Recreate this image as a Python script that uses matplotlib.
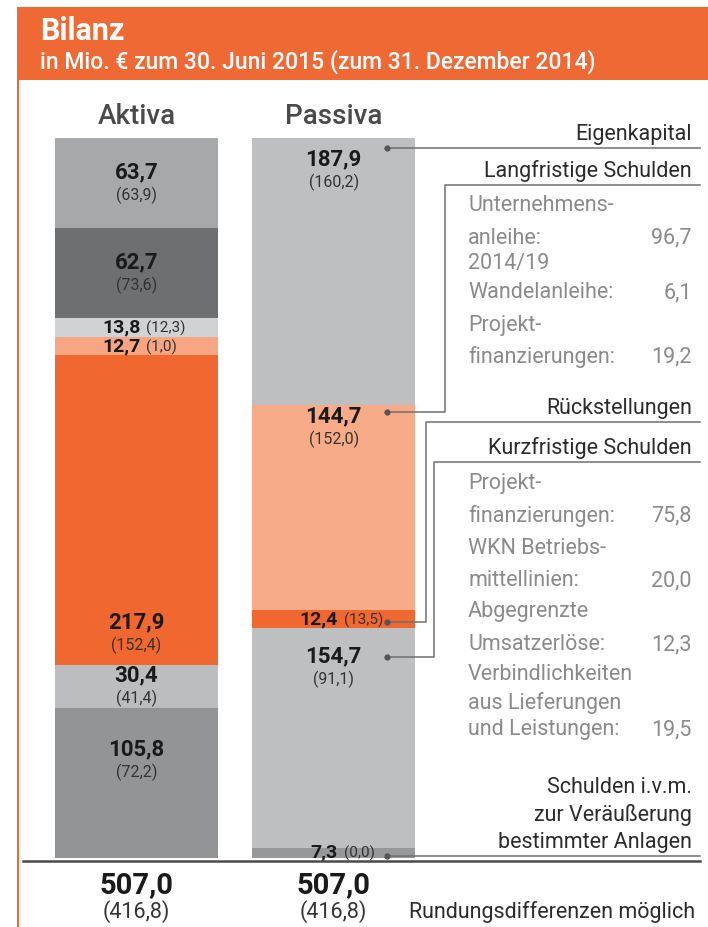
import numpy as np
import matplotlib
matplotlib.use("Agg")
import matplotlib.pyplot as plt
from matplotlib.patches import Rectangle

plt.rcParams['font.family'] = ['Roboto', 'DejaVu Sans']

# Bilanz in Mio. EUR, 30.06.2015 and (31.12.2014), segments listed top to bottom
aktiva_now = [63.7, 62.7, 13.8, 12.7, 217.9, 30.4, 105.8]
aktiva_prev = [63.9, 73.6, 12.3, 1.0, 152.4, 41.4, 72.2]
aktiva_colors = ['#a7a8aa', '#6e6f71', '#d1d2d4', '#f7a582', '#f0672f', '#bcbdbf', '#939496']

passiva_now = [187.9, 144.7, 12.4, 154.7, 7.3]
passiva_prev = [160.2, 152.0, 13.5, 91.1, 0.0]
passiva_colors = ['#bebfc1', '#f8ab88', '#f0672f', '#bebfc1', '#97989a']
passiva_names = ['Eigenkapital', 'Langfristige Schulden', 'Rückstellungen',
                 'Kurzfristige Schulden', 'Schulden i.v.m.\nzur Veräußerung\nbestimmter Anlagen']

lang_lines = ['Unternehmens-', 'anleihe:', '2014/19', 'Wandelanleihe:', 'Projekt-', 'finanzierungen:']
lang_values = [96.7, 6.1, 19.2]
kurz_lines = ['Projekt-', 'finanzierungen:', 'WKN Betriebs-', 'mittellinien:', 'Abgegrenzte',
              'Umsatzerlöse:', 'Verbindlichkeiten', 'aus Lieferungen', 'und Leistungen:']
kurz_values = [75.8, 20.0, 12.3, 19.5]

total_now = 507.0
total_prev = 416.8


def de(v):
    return f"{v:.1f}".replace('.', ',')


W, H = 708, 927
ORANGE = '#ef6935'
LINE = '#6f6f6f'
NOTE = 15.5
fig = plt.figure(figsize=(W / 100, H / 100), dpi=100)

# overlay in pixel coords for header, notes and connectors
ov = fig.add_axes([0, 0, 1, 1])
ov.set_xlim(0, W)
ov.set_ylim(H, 0)
ov.axis('off')
ov.set_zorder(3)

# bars
ax = fig.add_axes([55 / W, (H - 858) / H, 360 / W, 720 / H])
bw = 0.825
ax.set_xlim(-bw / 2, 1 + bw / 2)
ax.set_ylim(total_now, 0)
ax.axis('off')
ax.set_zorder(2)


def to_px(x, y):
    return ov.transData.inverted().transform(ax.transData.transform((x, y)))


# label placement inside segments (fraction of segment) and inline flag
lab_frac = [[0.5, 0.5, 0.5, 0.5, 0.9, 0.5, 0.35], [0.12, 0.11, 0.5, 0.18, 0.5]]
inline = [[False, False, True, True, False, False, False], [False, False, True, False, True]]

cols = [(aktiva_now, aktiva_prev, aktiva_colors), (passiva_now, passiva_prev, passiva_colors)]
for i, (now, prev, colors) in enumerate(cols):
    bottoms = np.concatenate([[0], np.cumsum(now)[:-1]])
    ax.bar(i, now, bottom=bottoms, width=bw, color=colors, linewidth=0)
    for k in range(len(now)):
        yc = bottoms[k] + lab_frac[i][k] * now[k]
        if inline[i][k]:
            ax.annotate(de(now[k]), (i, yc), xytext=(4, 0), textcoords='offset pixels',
                        ha='right', va='center', fontsize=14, fontweight='bold', color='#1a1a1a')
            ax.annotate('(' + de(prev[k]) + ')', (i, yc), xytext=(10, -1), textcoords='offset pixels',
                        ha='left', va='center', fontsize=11, color='#333333')
        else:
            ax.annotate(de(now[k]), (i, yc), xytext=(0, 11), textcoords='offset pixels',
                        ha='center', va='center', fontsize=16, fontweight='bold', color='#1a1a1a')
            ax.annotate('(' + de(prev[k]) + ')', (i, yc), xytext=(0, -12), textcoords='offset pixels',
                        ha='center', va='center', fontsize=11.5, color='#333333')

    ax.annotate(['Aktiva', 'Passiva'][i], (i, 0), xytext=(0, 21), textcoords='offset pixels',
                ha='center', va='center', fontsize=20, fontweight='medium', color='#4a4a4a',
                annotation_clip=False)
    ax.annotate(de(total_now), (i, total_now), xytext=(0, -27), textcoords='offset pixels',
                ha='center', va='center', fontsize=21, fontweight='bold', color='#1a1a1a',
                annotation_clip=False)
    ax.annotate('(' + de(total_prev) + ')', (i, total_now), xytext=(0, -54), textcoords='offset pixels',
                ha='center', va='center', fontsize=15.5, color='#333333', annotation_clip=False)

# header
ov.add_patch(Rectangle((17, 7), W - 17, 73, color=ORANGE, lw=0))
ov.text(40, 31, 'Bilanz', color='white', fontsize=22, fontweight='bold', va='center')
ov.text(40, 62, 'in Mio. € zum 30. Juni 2015 (zum 31. Dezember 2014)', color='white',
        fontsize=16.5, fontweight='medium', va='center')
ov.plot([18, 18], [80, H], color=ORANGE, lw=1.5)

# connectors from Passiva segments to the notes on the right
dot_frac = [0.037, 0.035, 0.66, 0.13, 0.8]
elbow_x = [None, 445, 426, 434, None]
rule_y = [None, 185, 422, 462, None]
p_bottoms = np.concatenate([[0], np.cumsum(passiva_now)[:-1]])
for k, name in enumerate(passiva_names):
    dx, dy = to_px(1.27, p_bottoms[k] + dot_frac[k] * passiva_now[k])
    if elbow_x[k] is None:
        ry = dy
        ov.plot([dx, 700], [dy, dy], color=LINE, lw=1.1)
    else:
        ry = rule_y[k]
        ov.plot([dx, elbow_x[k], elbow_x[k], 700], [dy, dy, ry, ry], color=LINE, lw=1.1)
    ov.plot(dx, dy, 'o', color='#555555', ms=3.5)
    ov.text(692, ry - 3, name, ha='right', va='bottom', fontsize=NOTE, color='#2b2b2b',
            linespacing=1.35, multialignment='right')

# detail notes
lang_y = [205, 238, 263, 293, 326, 357]
lang_rows = [1, 3, 5]
kurz_y = [483, 516, 548, 581, 611, 645, 675, 703, 730]
kurz_rows = [1, 3, 5, 8]
for lines, ys, vals, rows in [(lang_lines, lang_y, lang_values, lang_rows),
                              (kurz_lines, kurz_y, kurz_values, kurz_rows)]:
    for t, y in zip(lines, ys):
        ov.text(468, y, t, ha='left', va='center', fontsize=NOTE, color='#8a8a8a')
    for v, r in zip(vals, rows):
        ov.text(692, ys[r], de(v), ha='right', va='center', fontsize=NOTE, color='#8a8a8a')

# base line and footnote
ov.plot([23, 700], [861, 861], color='#4a4a4a', lw=1.8)
ov.text(695, 912, 'Rundungsdifferenzen möglich', ha='right', va='center', fontsize=NOTE, color='#2b2b2b')

fig.savefig('out.png', dpi=100)
